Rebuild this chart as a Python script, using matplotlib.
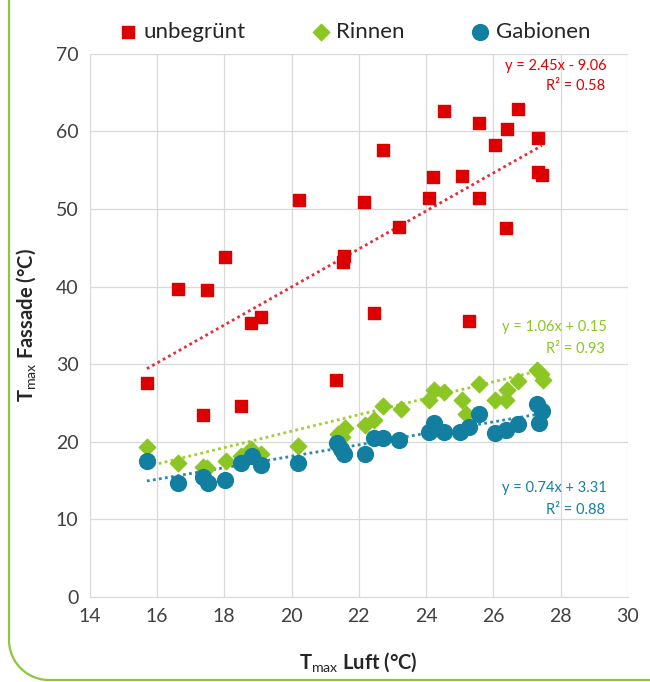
import matplotlib
matplotlib.use("Agg")
import matplotlib.pyplot as plt
from matplotlib.lines import Line2D
from matplotlib.transforms import IdentityTransform
import numpy as np

plt.rcParams['font.family'] = ['Lato', 'DejaVu Sans']
plt.rcParams['mathtext.fontset'] = 'custom'
plt.rcParams['mathtext.rm'] = 'Lato'
plt.rcParams['mathtext.bf'] = 'Lato:bold'

# unbegrünt (rote Quadrate)
x_unbegruent = [15.7, 16.62, 17.38, 17.48, 18.03, 18.5, 18.81, 19.08, 20.23, 21.33,
                21.53, 21.56, 22.15, 22.45, 22.72, 23.2, 24.1, 24.2, 24.54, 25.06,
                25.28, 25.58, 25.58, 26.06, 26.37, 26.42, 26.72, 27.34, 27.34, 27.44]
y_unbegruent = [27.5, 39.7, 23.4, 39.5, 43.8, 24.6, 35.3, 36.1, 51.1, 28.0,
                43.2, 43.9, 50.9, 36.6, 57.6, 47.7, 51.4, 54.1, 62.6, 54.3,
                35.6, 61.1, 51.4, 58.3, 47.5, 60.3, 62.9, 59.2, 54.8, 54.4]

# Rinnen (grüne Rauten)
x_rinnen = [15.7, 16.62, 17.38, 17.5, 18.04, 18.5, 18.81, 19.1, 20.2, 21.38,
            21.5, 21.58, 22.17, 22.45, 22.72, 23.24, 24.1, 24.23, 24.54, 25.06,
            25.2, 25.58, 26.05, 26.37, 26.42, 26.72, 27.29, 27.41, 27.48]
y_rinnen = [19.25, 17.2, 16.75, 16.6, 17.5, 18.1, 19.1, 18.4, 19.5, 21.05,
            20.6, 21.7, 22.1, 22.8, 24.6, 24.2, 25.4, 26.6, 26.4, 25.4,
            23.6, 27.4, 25.4, 25.4, 26.6, 27.8, 29.2, 28.7, 27.9]

# Gabionen (blaue Kreise)
x_gabionen = [15.7, 16.62, 17.38, 17.51, 18.03, 18.5, 18.83, 19.09, 20.2, 21.36,
              21.46, 21.56, 22.17, 22.45, 22.72, 23.2, 24.1, 24.25, 24.54, 25.0,
              25.28, 25.58, 26.05, 26.37, 26.72, 27.31, 27.46, 27.36]
y_gabionen = [17.5, 14.7, 15.5, 14.7, 15.1, 17.2, 18.1, 17.0, 17.3, 19.8,
              19.0, 18.4, 18.4, 20.5, 20.5, 20.2, 21.3, 22.4, 21.3, 21.3,
              21.9, 23.6, 21.1, 21.5, 22.3, 24.8, 24.0, 22.4]

# Trendlinien (aus den Beschriftungen)
trends = {
    "unbegrünt": (2.45, -9.06, 0.58),
    "Rinnen": (1.06, 0.15, 0.93),
    "Gabionen": (0.74, 3.31, 0.88),
}

c_red = "#DD0000"
c_green = "#8CC624"
c_blue = "#137FA0"

fig = plt.figure(figsize=(6.5, 6.82), dpi=100)
ax = fig.add_axes([0.138, 0.125, 0.828, 0.796])

ax.scatter(x_unbegruent, y_unbegruent, marker="s", s=80, color=c_red, zorder=3, label="unbegrünt")
ax.scatter(x_rinnen, y_rinnen, marker="D", s=70, color=c_green, zorder=3, label="Rinnen")
ax.scatter(x_gabionen, y_gabionen, marker="o", s=130, color=c_blue, zorder=3, label="Gabionen")

# gepunktete Trendlinien
line_cols = {"unbegrünt": "#E0303A", "Rinnen": "#A0D030", "Gabionen": "#2A8AAA"}
xs_all = {"unbegrünt": x_unbegruent, "Rinnen": x_rinnen, "Gabionen": x_gabionen}
for name, (m, b, r2) in trends.items():
    xx = np.array([min(xs_all[name]), max(xs_all[name])])
    ax.plot(xx, m * xx + b, linestyle=(0, (1, 1.2)), linewidth=2, color=line_cols[name], zorder=2)

def eq_text(m, b):
    sign = "+" if b >= 0 else "-"
    return f"y = {m:.2f}x {sign} {abs(b):.2f}"

lab_pos = {"unbegrünt": (68.4, 65.9, c_red), "Rinnen": (34.8, 31.9, c_green), "Gabionen": (14.0, 11.2, c_blue)}
for name, (m, b, r2) in trends.items():
    y1, y2, col = lab_pos[name]
    ax.text(29.38, y1, eq_text(m, b), color=col, fontsize=10.5, ha="right", va="center")
    ax.text(29.32, y2, f"R² = {r2:.2f}", color=col, fontsize=10.5, ha="right", va="center")

ax.set_xlim(14, 30)
ax.set_ylim(0, 70)
ax.set_xticks(range(14, 31, 2))
ax.set_yticks(range(0, 71, 10))
ax.grid(True, color="#D9D9D9", linewidth=0.9)
ax.set_axisbelow(True)
for s in ["top", "right", "left"]:
    ax.spines[s].set_visible(False)
ax.spines["bottom"].set_color("#D9D9D9")
ax.tick_params(length=0, labelsize=14, colors="#404040", pad=8)
ax.set_xlabel(r"T$_{\mathrm{max}}$ Luft (°C)", fontsize=14.5, fontweight="bold", color="#262626", labelpad=18)
ax.set_ylabel(r"T$_{\mathrm{max}}$ Fassade (°C)", fontsize=14.5, fontweight="bold", color="#262626", labelpad=13)

ax.legend(loc="lower center", bbox_to_anchor=(0.49, 1.0), ncol=3, frameon=False,
          fontsize=16, handlelength=1.0, handletextpad=0.2, columnspacing=2.9,
          borderaxespad=0.15, labelcolor="#262626")

# grüner Rahmen mit runder Ecke (Pixelkoordinaten)
r = 40
t = np.linspace(np.pi, 1.5 * np.pi, 30)
fx = np.concatenate([[9], 9 + r + r * np.cos(t), [700]])
fy = np.concatenate([[700], 2 + r + r * np.sin(t), [2]])
fig.add_artist(Line2D(fx, fy, transform=IdentityTransform(), color="#8CC63F", linewidth=1.6))

fig.savefig("out.png", dpi=100)
